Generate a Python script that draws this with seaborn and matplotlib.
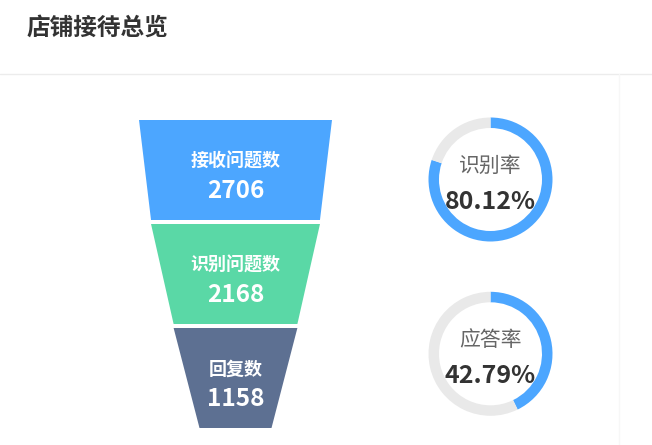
import matplotlib
matplotlib.use("Agg")
import matplotlib.pyplot as plt
import seaborn as sns

# data
stages = ['接收问题数', '识别问题数', '回复数']
counts = [2706, 2168, 1158]
rate_labels = ['识别率', '应答率']
rates = [80.12, 42.79]
title = '店铺接待总览'

funnel_colors = ['#4ca6ff', '#5ad8a6', '#5d7092']
ring_blue = '#4ca6ff'
ring_gray = '#e9e9e9'

sns.set_theme(style='white')
plt.rcParams['font.family'] = ['Noto Sans CJK SC', 'DejaVu Sans']

W, H = 652, 445
fig = plt.figure(figsize=(W / 100, H / 100), dpi=100)
fig.patch.set_facecolor('white')

# canvas axes in pixel units (top-left origin)
ax = fig.add_axes([0, 0, 1, 1])
ax.set_xlim(0, W)
ax.set_ylim(H, 0)
ax.axis('off')

ax.text(27, 28, title, fontsize=17, fontweight='bold', color='#333333',
        ha='left', va='center')
ax.plot([0, W], [74, 74], color='#ececec', lw=1)
ax.plot([619, 619], [74, H], color='#f7f7f7', lw=1)

# funnel: width maps value -> size, last piece closes at value 0
cx, top, seg_h, gap = 235.5, 120, 100, 4
max_w, min_w = 193, 72
vmax = max(counts)

def width(v):
    return min_w + (max_w - min_w) * v / vmax

edges = counts + [0]
for i, (name, val) in enumerate(zip(stages, counts)):
    y0 = top + i * (seg_h + gap)
    y1 = y0 + seg_h
    w0, w1 = width(edges[i]), width(edges[i + 1])
    ax.fill([cx - w0 / 2, cx + w0 / 2, cx + w1 / 2, cx - w1 / 2],
            [y0, y0, y1, y1], color=funnel_colors[i], lw=0)
    yc = (y0 + y1) / 2
    ax.text(cx, yc - 9, name, fontsize=13, fontweight='bold', color='white',
            ha='center', va='center')
    ax.text(cx, yc + 21.5, f'{val}', fontsize=17.5, fontweight='bold',
            color='white', ha='center', va='center')

# ring gauges
centers = [(490.5, 179.5), (490.5, 353.8)]
r = 62
for (gx, gy), lab, rate in zip(centers, rate_labels, rates):
    pax = fig.add_axes([(gx - r) / W, 1 - (gy + r) / H, 2 * r / W, 2 * r / H])
    pax.pie([rate, 100 - rate], colors=[ring_blue, ring_gray], startangle=90,
            counterclock=False, radius=1,
            wedgeprops=dict(width=10.5 / r, linewidth=0))
    pax.set_xlim(-1, 1)
    pax.set_ylim(-1, 1)
    pax.set_aspect('equal')
    pax.axis('off')
    ax.text(gx, gy - 14, lab, fontsize=15, color='#666666',
            ha='center', va='center')
    ax.text(gx, gy + 22.5, f'{rate:.2f}%', fontsize=18, fontweight='bold',
            color='#333333', ha='center', va='center')

fig.savefig('out.png', dpi=100, facecolor='white')
